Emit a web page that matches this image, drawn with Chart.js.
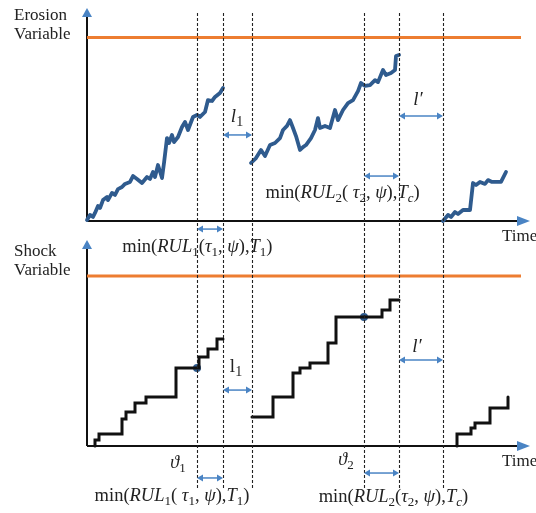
<!DOCTYPE html>
<html>
<head>
<meta charset="utf-8">
<script src="https://cdn.jsdelivr.net/npm/chart.js@4.4.0/dist/chart.umd.min.js"></script>
<style>
  body { margin: 0; background: #fff; }
  #wrap { position: relative; width: 536px; height: 513px; }
  #wrap canvas { position: absolute; left: 0; top: 0; }
</style>
</head>
<body>
<div id="wrap">
  <canvas id="erosionChart" width="536" height="513"></canvas>
  <canvas id="shockChart" width="536" height="513"></canvas>
</div>
<script>
// instants marqués par les pointillés
const eventTimes = [27.5, 34, 41.25, 69.25, 78, 89];
const threshold = 100;
const thresholdEnd = 108.5;

// variable d'érosion (trois cycles)
const erosionTime1 = [0, 0.75, 1.5, 2, 2.75, 3.25, 4, 5, 5.25, 6.25, 7, 7.75, 8.75, 9.5, 10.75, 11.5, 12.5, 13.75, 15, 15.75, 16.5, 17, 17.75, 18.75, 19.25, 20, 20.5, 21.25, 21.75, 22.75, 23.75, 24.5, 25.25, 26.5, 27.5, 28.25, 29.5, 30.25, 31.25, 32, 33.25, 34];
const erosionValue1 = [0.5, 3.3, 2.2, 4.4, 8.2, 7.1, 11.4, 13.1, 11.4, 15.3, 14.2, 17.4, 18.5, 20.2, 21.3, 24.5, 22.9, 20.7, 24, 22.9, 26.7, 24, 30.5, 23.4, 31.6, 45.2, 42.5, 46.9, 43, 45.8, 51.2, 54, 49.6, 56.7, 57.8, 56.7, 59.4, 65.9, 65.4, 67.6, 69.8, 72.5];
const erosionTime2 = [41, 42.25, 43.5, 44.5, 45.75, 47, 48.25, 49, 50, 50.75, 51.5, 52.25, 53.25, 54, 54.75, 56, 57, 57.75, 58.25, 59.5, 60.75, 62, 62.75, 64, 65.25, 66.5, 67.75, 68.5, 69.5, 70.75, 72, 72.75, 74, 74.75, 76, 77, 77.25, 78];
const erosionValue2 = [31.6, 34.3, 38.7, 35.4, 41.4, 42.5, 45.2, 49.6, 51.8, 55, 50.7, 46.3, 38.7, 40.3, 41.4, 45.2, 49.6, 56.1, 50.7, 51.8, 50.7, 60.5, 55, 60.5, 64.3, 65.9, 70.8, 75.2, 73.6, 74.1, 76.8, 75.7, 82.3, 79.6, 80.7, 82.3, 89.9, 90.5];
const erosionTime3 = [89, 90.25, 91, 92, 92.75, 94, 95.75, 96.5, 97.25, 98.25, 99.5, 100.25, 101.25, 103.5, 104.75];
const erosionValue3 = [0, 3.3, 2.2, 4.9, 3.8, 6, 6, 20.7, 19.6, 21.3, 20.2, 22.3, 21.3, 21.3, 26.7];

// variable de choc (sauts)
const shockTime1 = [2, 2, 3, 8.75, 9.75, 12, 14.75, 22.25, 28, 30.25, 32.5, 34];
const shockValue1 = [0, 3.5, 7.1, 15.9, 20, 25.3, 28.8, 45.9, 52.4, 57.1, 62.9, 62.9];
const shockTime2 = [41.25, 46.5, 51.5, 53.25, 55.75, 60.25, 62.25, 73.75, 75.75, 78];
const shockValue2 = [17.1, 28.8, 42.9, 45.9, 48.8, 60.6, 75.9, 80, 85.9, 85.9];
const shockTime3 = [92.5, 92.5, 96, 97, 100.75, 105.25];
const shockValue3 = [0, 7.1, 10.6, 13.5, 22.4, 28.8];
const shockDotTime = [27.5, 69.25];
const shockDotValue = [45.9, 75.9];

const SERIF = '"Liberation Serif", "DejaVu Serif", serif';
const BLUE_PATH = '#2f5b8e';
const BLUE_ARROW = '#4a84c4';
const ORANGE = '#ed7d31';

function toPoints(xs, ys) {
    return xs.map((x, i) => ({ x: x, y: ys[i] }));
}

// texte avec italiques et indices
function drawRich(ctx, segs, x, y, size) {
    const fontOf = f => (f.indexOf('i') >= 0 ? 'italic ' : '') + (f.indexOf('s') >= 0 ? Math.round(size * 0.72) : size) + 'px ' + SERIF;
    let total = 0;
    segs.forEach(s => { ctx.font = fontOf(s[1]); total += ctx.measureText(s[0]).width; });
    let cx = x - total / 2;
    ctx.textBaseline = 'middle';
    ctx.textAlign = 'left';
    ctx.fillStyle = '#222';
    segs.forEach(s => {
        ctx.font = fontOf(s[1]);
        const dy = s[1].indexOf('s') >= 0 ? size * 0.3 : 0;
        ctx.fillText(s[0], cx, y + dy);
        cx += ctx.measureText(s[0]).width;
    });
}

function doubleArrow(ctx, x1, x2, y) {
    ctx.save();
    ctx.strokeStyle = BLUE_ARROW;
    ctx.fillStyle = BLUE_ARROW;
    ctx.lineWidth = 1.5;
    ctx.beginPath();
    ctx.moveTo(x1 + 3, y);
    ctx.lineTo(x2 - 3, y);
    ctx.stroke();
    [[x1, 1], [x2, -1]].forEach(([x, d]) => {
        ctx.beginPath();
        ctx.moveTo(x, y);
        ctx.lineTo(x + d * 6, y - 3.5);
        ctx.lineTo(x + d * 6, y + 3.5);
        ctx.closePath();
        ctx.fill();
    });
    ctx.restore();
}

const schemaPlugin = {
    id: 'schema',
    beforeDatasetsDraw(chart, args, opts) {
        const ctx = chart.ctx, a = chart.chartArea;
        ctx.save();
        ctx.strokeStyle = '#111';
        ctx.lineWidth = 2;
        ctx.beginPath();
        ctx.moveTo(a.left, a.bottom);
        ctx.lineTo(a.left, a.top + 6);
        ctx.moveTo(a.left, a.bottom);
        ctx.lineTo(a.right - 10, a.bottom);
        ctx.stroke();
        ctx.fillStyle = BLUE_ARROW;
        ctx.beginPath();
        ctx.moveTo(a.left, a.top - 2);
        ctx.lineTo(a.left - 5, a.top + 7);
        ctx.lineTo(a.left + 5, a.top + 7);
        ctx.closePath();
        ctx.fill();
        ctx.beginPath();
        ctx.moveTo(a.right + 3, a.bottom);
        ctx.lineTo(a.right - 10, a.bottom - 5);
        ctx.lineTo(a.right - 10, a.bottom + 5);
        ctx.closePath();
        ctx.fill();

        // titre de l'axe vertical
        ctx.fillStyle = '#222';
        ctx.font = '17px ' + SERIF;
        ctx.textAlign = 'left';
        ctx.textBaseline = 'middle';
        opts.title.forEach((line, i) => ctx.fillText(line, 14, a.top + opts.titleY + i * 19));
        ctx.restore();
    },
    afterDatasetsDraw(chart, args, opts) {
        const ctx = chart.ctx, a = chart.chartArea;
        const xs = chart.scales.x, ys = chart.scales.y;
        ctx.save();
        ctx.strokeStyle = '#222';
        ctx.lineWidth = 1.1;
        ctx.setLineDash([3, 2]);
        eventTimes.forEach(t => {
            const px = Math.round(xs.getPixelForValue(t)) + 0.5;
            ctx.beginPath();
            ctx.moveTo(px, a.top + opts.dashTop);
            ctx.lineTo(px, a.bottom + opts.dashBottom);
            ctx.stroke();
        });
        ctx.restore();

        opts.arrows.forEach(ar => doubleArrow(ctx, xs.getPixelForValue(ar[0]), xs.getPixelForValue(ar[1]), ys.getPixelForValue(ar[2])));
        opts.labels.forEach(lb => drawRich(ctx, lb[2], xs.getPixelForValue(lb[0]), ys.getPixelForValue(lb[1]), lb[3] || 16));

        ctx.save();
        ctx.fillStyle = '#222';
        ctx.font = '17px ' + SERIF;
        ctx.textAlign = 'left';
        ctx.textBaseline = 'middle';
        ctx.fillText('Time', a.right - 25, a.bottom + 16);
        ctx.restore();
    }
};

function baseOptions(yMax, padding, schema) {
    return {
        responsive: false,
        animation: false,
        devicePixelRatio: 1,
        layout: { padding: padding },
        scales: {
            x: { type: 'linear', min: 0, max: 110, display: false },
            y: { type: 'linear', min: 0, max: yMax, display: false }
        },
        plugins: {
            legend: { display: false },
            tooltip: { enabled: false },
            schema: schema
        }
    };
}

function pathSet(xs, ys, color, stepped) {
    return {
        data: toPoints(xs, ys),
        borderColor: color,
        borderWidth: stepped ? 3 : 3.8,
        pointRadius: 0,
        tension: 0,
        stepped: stepped,
        clip: false,
        borderJoinStyle: stepped ? 'miter' : 'round',
        borderCapStyle: 'round'
    };
}

function thresholdSet() {
    return {
        data: [{ x: 0, y: threshold }, { x: thresholdEnd, y: threshold }],
        borderColor: ORANGE,
        borderWidth: 3,
        pointRadius: 0,
        clip: false
    };
}

const RUL1 = [['min(', ''], ['RUL', 'i'], ['1', 's'], ['(', ''], ['τ', 'i'], ['1', 's'], [', ', ''], ['ψ', 'i'], ['),', ''], ['T', 'i'], ['1', 's'], [')', '']];
const RUL1b = [['min(', ''], ['RUL', 'i'], ['1', 's'], ['( ', ''], ['τ', 'i'], ['1', 's'], [', ', ''], ['ψ', 'i'], ['),', ''], ['T', 'i'], ['1', 's'], [')', '']];
const RUL2 = [['min(', ''], ['RUL', 'i'], ['2', 's'], ['( ', ''], ['τ', 'i'], ['2', 's'], [', ', ''], ['ψ', 'i'], ['),', ''], ['T', 'i'], ['c', 'is'], [')', '']];
const RUL2b = [['min(', ''], ['RUL', 'i'], ['2', 's'], ['(', ''], ['τ', 'i'], ['2', 's'], [', ', ''], ['ψ', 'i'], ['),', ''], ['T', 'i'], ['c', 'is'], [')', '']];

// graphique du haut : érosion
new Chart(document.getElementById('erosionChart'), {
    type: 'line',
    data: {
        datasets: [
            thresholdSet(),
            pathSet(erosionTime1, erosionValue1, BLUE_PATH, false),
            pathSet(erosionTime2, erosionValue2, BLUE_PATH, false),
            pathSet(erosionTime3, erosionValue3, BLUE_PATH, false)
        ]
    },
    options: baseOptions(115, { left: 87, right: 9, top: 10, bottom: 292 }, {
        title: ['Erosion', 'Variable'],
        titleY: 6,
        dashTop: 3,
        dashBottom: 19,
        arrows: [[27.5, 34, -4.4], [34, 41.25, 46.9], [69.25, 78, 24.5], [78, 89, 57.2]],
        labels: [
            [37.5, 56.7, [['l', 'i'], ['1', 's']], 19],
            [82.75, 65.9, [['l′', 'i']], 19],
            [63.9, 15.3, RUL2, 18.5],
            [27.6, -14.2, RUL1, 18.5]
        ]
    }),
    plugins: [schemaPlugin]
});

// graphique du bas : chocs
new Chart(document.getElementById('shockChart'), {
    type: 'line',
    data: {
        datasets: [
            thresholdSet(),
            pathSet(shockTime1, shockValue1, '#111', true),
            pathSet(shockTime2, shockValue2, '#111', true),
            pathSet(shockTime3, shockValue3, '#111', true),
            {
                data: toPoints(shockDotTime, shockDotValue),
                showLine: false,
                pointRadius: 4,
                pointBackgroundColor: BLUE_PATH,
                pointBorderWidth: 0,
                clip: false
            }
        ]
    },
    options: baseOptions(120, { left: 87, right: 9, top: 242, bottom: 67 }, {
        title: ['Shock', 'Variable'],
        titleY: 10,
        dashTop: -2,
        dashBottom: 42,
        arrows: [[34, 41.25, 32.9], [78, 89, 50.6], [27.5, 34, -18.8], [69.25, 78, -15.9]],
        labels: [
            [37.25, 46.5, [['l', ''], ['1', 's']], 19],
            [82.5, 58.2, [['l′', 'i']], 19],
            [22.75, -10, [['ϑ', 'i'], ['1', 's']], 18],
            [64.75, -8.2, [['ϑ', 'i'], ['2', 's']], 18],
            [21.25, -29.4, RUL1b, 18.5],
            [76.6, -30, RUL2b, 18.5]
        ]
    }),
    plugins: [schemaPlugin]
});
</script>
</body>
</html>
